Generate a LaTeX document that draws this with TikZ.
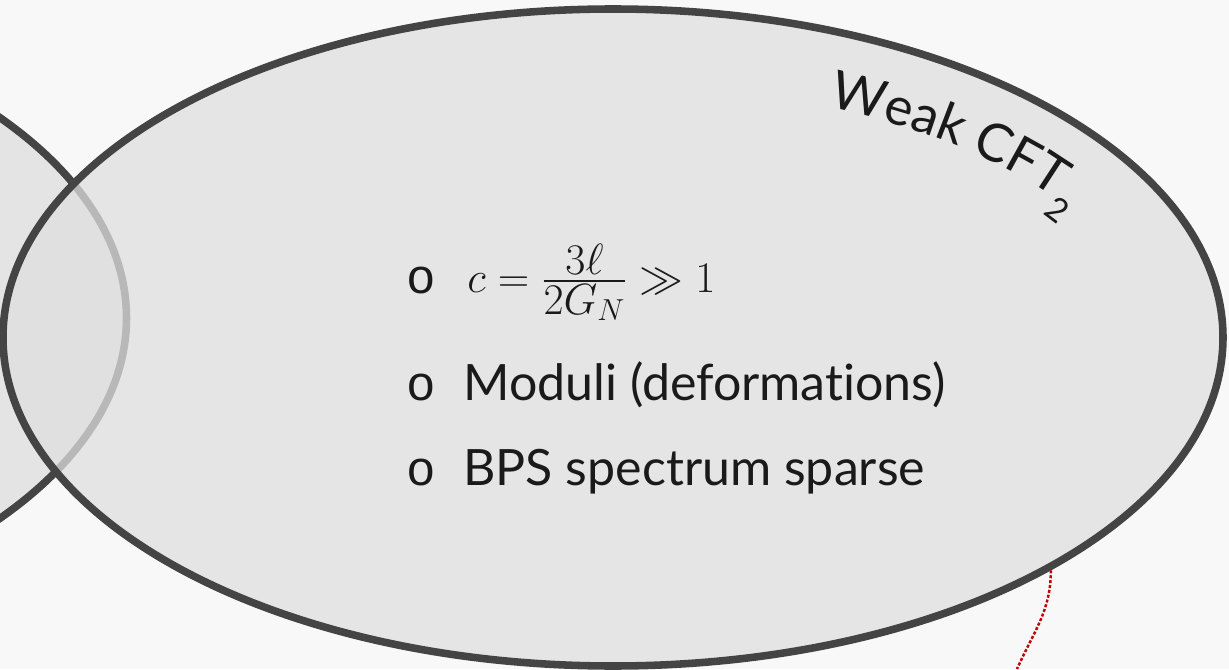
\documentclass[tikz,border=0pt]{standalone}
\usepackage{amsmath,amssymb}
\usepackage{fontspec}
\setmainfont{Lato}[Ligatures=NoCommon]
\newfontfamily\bulletfont{Liberation Mono}
\usepackage{xcolor}
\usepackage{tikz}
\usetikzlibrary{positioning,shapes.geometric,decorations.text}
\definecolor{bgcol}{HTML}{F8F8F8}
\definecolor{rimcol}{HTML}{444444}
\definecolor{lenscol}{HTML}{E4E4E4}
\definecolor{bigcol}{HTML}{DFDFDF}
\definecolor{txtcol}{HTML}{1A1A1A}
\definecolor{linkcol}{HTML}{C00000}

\begin{document}
\begin{tikzpicture}[
        regime/.style={ellipse,draw=rimcol,line width=4.3pt,inner sep=0pt,
                       minimum width=24.4cm,minimum height=13.14cm},
        itemtxt/.style={anchor=base west,inner sep=0pt,text=txtcol,
                        font=\fontsize{28.5}{34}\selectfont},
        mathtxt/.style={anchor=base west,inner sep=0pt,text=txtcol,
                        font=\fontsize{33}{38}\selectfont},
        bul/.style={anchor=base west,inner sep=0pt,text=txtcol,
                    font=\bulletfont\fontsize{28}{34}\selectfont},
        link/.style={draw=linkcol,line width=1.4pt,
                     dash pattern=on 1.7pt off 1.1pt}]
        \fill[bgcol] (0,0) rectangle (24.58,13.38);
        \useasboundingbox (0,0) rectangle (24.58,13.38);
        % strong side, mostly off the page
        \node[regime,fill=lenscol] (strong) at (-9.67,7.02) {};
        % weak side
        \node[regime,fill=bigcol,fill opacity=0.75] (weak) at (12.26,6.63) {};
        \path[decorate,decoration={text along path,text align=left,
              text color=txtcol,
              text={|\fontsize{30}{36}\selectfont|Weak CFT{\raisebox{-11pt}{\fontsize{19}{19}\selectfont 2}}}}]
          (weak.center) ++(66:10.6cm and 5.04cm)
          arc[start angle=66,end angle=10,x radius=10.6cm,y radius=5.04cm];
        % list
        \foreach \i/\y in {1/7.52,2/5.38,3/3.68}{
          \node[bul] (b\i) at (8.13,\y) {o};
        }
        \node[mathtxt] (t1) at (9.34,7.54) {$c=\frac{3\ell}{2G_N}\gg 1$};
        \node[itemtxt] (t2) at (9.26,5.38) {Moduli (deformations)};
        \node[itemtxt] (t3) at (9.26,3.68) {BPS spectrum sparse};
        % pointer
        \coordinate (linkend) at (20.34,0);
        \draw[link] (weak.-28.4) to[out=-90,in=66] (linkend);
      \end{tikzpicture}
\end{document}
